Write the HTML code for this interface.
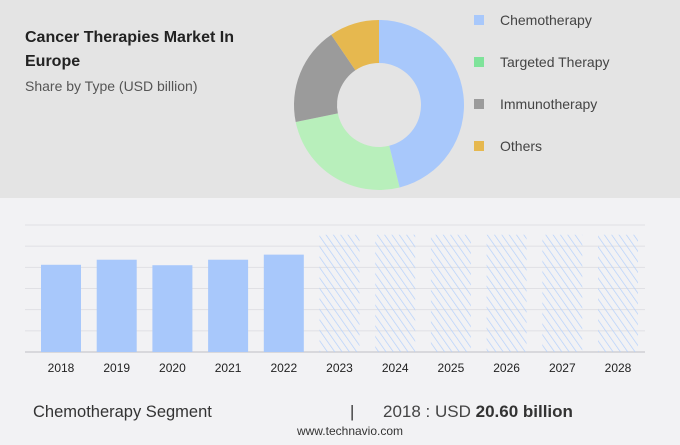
<!DOCTYPE html>
<html><head><meta charset="utf-8"><style>
body{margin:0;width:680px;height:440px;overflow:hidden;background:#f2f2f4;font-family:"Liberation Sans",sans-serif}
</style></head><body>
<svg width="680" height="440" xmlns="http://www.w3.org/2000/svg">
<defs><pattern id="hatch" width="6" height="6" patternUnits="userSpaceOnUse" patternTransform="rotate(-35)">
<line x1="0" y1="0" x2="0" y2="6" stroke="#b4d0fb" stroke-width="1.4"/></pattern></defs>
<rect x="0" y="0" width="680" height="198" fill="#e4e4e4"/>
<text x="25" y="42" font-size="16" font-weight="bold" fill="#222">Cancer Therapies Market In</text>
<text x="25" y="66" font-size="16" font-weight="bold" fill="#222">Europe</text>
<text x="25" y="91" font-size="14" fill="#555">Share by Type (USD billion)</text>
<g id="donut"></g>
<g id="legend"></g>
<g id="grid"></g>
<g id="bars"></g>
<text x="33" y="417" font-size="16.5" fill="#333">Chemotherapy Segment</text>
<text x="350" y="417" font-size="16.5" fill="#333">|</text>
<text x="383" y="417" font-size="17" fill="#444">2018 : USD <tspan font-weight="bold" fill="#333">20.60 billion</tspan></text>
<text x="350" y="435" font-size="12" fill="#333" text-anchor="middle">www.technavio.com</text>
</svg>
<script>
const sliceLabels=["Chemotherapy","Targeted Therapy","Immunotherapy","Others"];
const sliceValues=[46.1,25.7,18.7,9.5];
const sliceColors=["#a8c8fb","#b8efbb","#9b9b9b","#e6b84f"];
const legendColors=["#a8c8fb","#7fe39a","#9b9b9b","#e6b84f"];
const years=["2018","2019","2020","2021","2022","2023","2024","2025","2026","2027","2028"];
const values=[20.6,21.8,20.5,21.8,23.0,27.7,27.7,27.7,27.7,27.7,27.7];
const forecast=[false,false,false,false,false,true,true,true,true,true,true];
const gridTicks=[0,5,10,15,20,25,30];
const NS="http://www.w3.org/2000/svg";
function mk(t,a,p){const e=document.createElementNS(NS,t);for(const k in a)e.setAttribute(k,a[k]);p.appendChild(e);return e;}
const cx=379,cy=105,R=85,r=42;
const total=sliceValues.reduce((a,b)=>a+b,0);
let a0=0;const dg=document.getElementById('donut');
sliceValues.forEach((v,i)=>{
 const a1=a0+v/total*2*Math.PI;
 const p=(ang,rad)=>[cx+rad*Math.sin(ang),cy-rad*Math.cos(ang)];
 const [x1,y1]=p(a0,R),[x2,y2]=p(a1,R),[x3,y3]=p(a1,r),[x4,y4]=p(a0,r);
 const lg=(a1-a0)>Math.PI?1:0;
 const e=mk('path',{d:`M${x1},${y1}A${R},${R} 0 ${lg} 1 ${x2},${y2}L${x3},${y3}A${r},${r} 0 ${lg} 0 ${x4},${y4}Z`,fill:sliceColors[i]},dg);
 
 
 a0=a1;
});
const lgd=document.getElementById('legend');
sliceLabels.forEach((l,i)=>{
 const y=20+i*42;
 const s=mk('rect',{x:474,y:y-5,width:10,height:10,fill:legendColors[i]},lgd);
 
 
 const t=mk('text',{x:500,y:y+5,'font-size':14,fill:'#444'},lgd);t.textContent=l;
 
 
});
const base=352,scale=127/30,x0=61,step=55.7,bw=40;
const yv=v=>base-v*scale;
const gg=document.getElementById('grid');
gridTicks.forEach(t=>{const l=mk('line',{x1:25,x2:645,y1:yv(t),y2:yv(t),stroke:t===0?'#cfcfd3':'#e0e0e4','stroke-width':t===0?1.5:1},gg);
 
 });
const bg=document.getElementById('bars');
years.forEach((y,i)=>{
 const cxb=x0+i*step;
 const b=mk('rect',{x:cxb-bw/2,y:yv(values[i]),width:bw,height:values[i]*scale,fill:forecast[i]?'url(#hatch)':'#a8c8fb'},bg);
 
 
 const t=mk('text',{x:cxb,y:372,'font-size':12,fill:'#222','text-anchor':'middle'},bg);t.textContent=y;
 
 
});
</script>
</body></html>
